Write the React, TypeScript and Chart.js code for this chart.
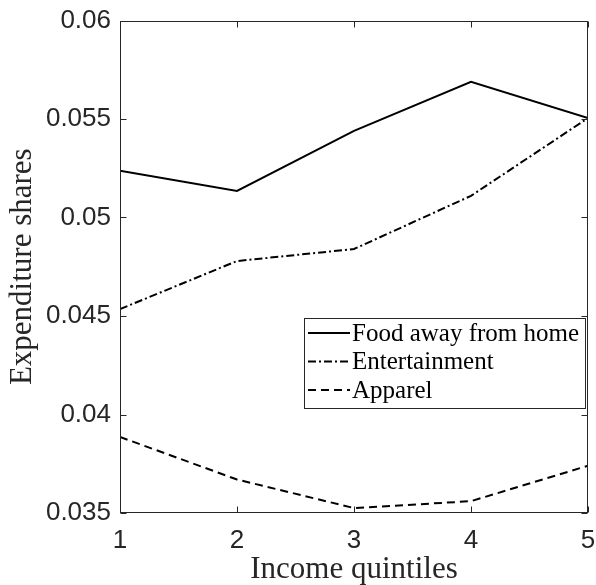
import React, { useEffect, useRef } from 'react';
import { Chart, registerables } from 'chart.js';
Chart.register(...registerables);

const quintiles = [1, 2, 3, 4, 5];
const foodAway = [0.05237, 0.05135, 0.0544, 0.05689, 0.05505];
const entertainment = [0.04535, 0.04779, 0.0484, 0.0511, 0.05505];
const apparel = [0.03886, 0.0367, 0.03525, 0.0356, 0.0374];
const seriesLabels = ['Food away from home', 'Entertainment', 'Apparel'];
const xTickLabels = ['1', '2', '3', '4', '5'];
const yTickLabels = ['0.035', '0.04', '0.045', '0.05', '0.055', '0.06'];
const xTitle = 'Income quintiles';
const yTitle = 'Expenditure shares';

const AXIS = '#262626';
const SERIF = "'Liberation Serif', 'DejaVu Serif', serif";
const SANS = "'Liberation Sans', Arial, sans-serif";

const framePlugin = {
  id: 'matlabFrame',
  afterDatasetsDraw(chart: any) {
    const { ctx, chartArea: a, scales } = chart;
    const L = Math.round(a.left) + 0.5;
    const R = Math.round(a.right) - 0.5;
    const T = Math.round(a.top) + 0.5;
    const B = Math.round(a.bottom) - 0.5;
    ctx.save();
    ctx.strokeStyle = AXIS;
    ctx.lineWidth = 1;
    ctx.strokeRect(L, T, R - L, B - T);
    const tl = 6;
    ctx.beginPath();
    for (const t of scales.y.ticks) {
      const y = Math.round(scales.y.getPixelForValue(t.value)) + 0.5;
      ctx.moveTo(L, y); ctx.lineTo(L + tl, y);
      ctx.moveTo(R, y); ctx.lineTo(R - tl, y);
    }
    for (const t of scales.x.ticks) {
      const x = Math.round(scales.x.getPixelForValue(t.value)) + 0.5;
      ctx.moveTo(x, B); ctx.lineTo(x, B - tl);
      ctx.moveTo(x, T); ctx.lineTo(x, T + tl);
    }
    ctx.stroke();
    ctx.restore();
  },
  afterDraw(chart: any) {
    const { ctx } = chart;
    const bx = 304.5, by = 318.5, bw = 281, bh = 90;
    ctx.save();
    ctx.fillStyle = '#ffffff';
    ctx.fillRect(bx, by, bw, bh);
    ctx.strokeStyle = AXIS;
    ctx.lineWidth = 1;
    ctx.strokeRect(bx, by, bw, bh);
    const rowY = [333, 361.5, 390];
    chart.data.datasets.forEach((ds: any, i: number) => {
      const y = rowY[i];
      ctx.beginPath();
      ctx.setLineDash(ds.borderDash || []);
      ctx.strokeStyle = ds.borderColor;
      ctx.lineWidth = ds.borderWidth;
      ctx.moveTo(308, y);
      ctx.lineTo(350, y);
      ctx.stroke();
      ctx.setLineDash([]);
      ctx.fillStyle = '#000000';
      ctx.font = `25px ${SERIF}`;
      ctx.textBaseline = 'middle';
      ctx.textAlign = 'left';
      ctx.fillText(ds.label, 352, y + 1);
    });
    ctx.restore();
  },
};

export default function App() {
  const ref = useRef<HTMLCanvasElement | null>(null);
  useEffect(() => {
    document.body.style.margin = '0';
    const canvas = ref.current;
    if (!canvas) return;
    const mk = (label: string, data: number[], dash: number[]) => ({
      label,
      data: quintiles.map((q, i) => ({ x: q, y: data[i] })),
      borderColor: '#000000',
      backgroundColor: '#000000',
      borderWidth: 2,
      borderDash: dash,
      pointRadius: 0,
      tension: 0,
      fill: false,
    });
    const chart = new Chart(canvas, {
      type: 'line',
      data: {
        datasets: [
          mk(seriesLabels[0], foodAway, []),
          mk(seriesLabels[1], entertainment, [8, 3, 2, 3]),
          mk(seriesLabels[2], apparel, [8, 5]),
        ],
      },
      options: {
        animation: false,
        responsive: false,
        devicePixelRatio: 1,
        layout: { padding: { top: 20.5, right: 8, left: 0, bottom: 0 } },
        plugins: { legend: { display: false }, tooltip: { enabled: false } },
        scales: {
          x: {
            type: 'linear',
            min: 1,
            max: 5,
            grid: { display: false, drawTicks: false },
            border: { display: false },
            afterBuildTicks: (s: any) => { s.ticks = xTickLabels.map((v) => ({ value: Number(v) })); },
            afterFit: (s: any) => { s.height = 72; s.paddingLeft = 0; s.paddingRight = 0; },
            ticks: {
              padding: 12,
              color: AXIS,
              font: { family: SANS, size: 26 },
              maxRotation: 0,
              callback: (v: any) => xTickLabels.find((t) => Number(t) === v) ?? '',
            },
            title: {
              display: true,
              text: xTitle,
              color: AXIS,
              font: { family: SERIF, size: 31, lineHeight: 1 },
              padding: { top: 0, bottom: 0 },
            },
          },
          y: {
            type: 'linear',
            min: 0.035,
            max: 0.06,
            grid: { display: false, drawTicks: false },
            border: { display: false },
            afterBuildTicks: (s: any) => { s.ticks = yTickLabels.map((v) => ({ value: Number(v) })); },
            afterFit: (s: any) => { s.width = 120; s.paddingTop = 0; s.paddingBottom = 0; },
            ticks: {
              padding: 9,
              color: AXIS,
              font: { family: SANS, size: 26 },
              callback: (v: any) => yTickLabels.find((t) => Math.abs(Number(t) - v) < 1e-9) ?? '',
            },
            title: {
              display: true,
              text: yTitle,
              color: AXIS,
              font: { family: SERIF, size: 31, lineHeight: 1 },
              padding: { top: 7, bottom: 0 },
            },
          },
        },
      },
      plugins: [framePlugin],
    } as any);
    return () => chart.destroy();
  }, []);
  return (
    <div style={{ position: 'absolute', left: 0, top: 0, width: 596, height: 585, background: '#fff' }}>
      <canvas ref={ref} width={596} height={585} style={{ width: 596, height: 585, display: 'block' }} />
    </div>
  );
}
